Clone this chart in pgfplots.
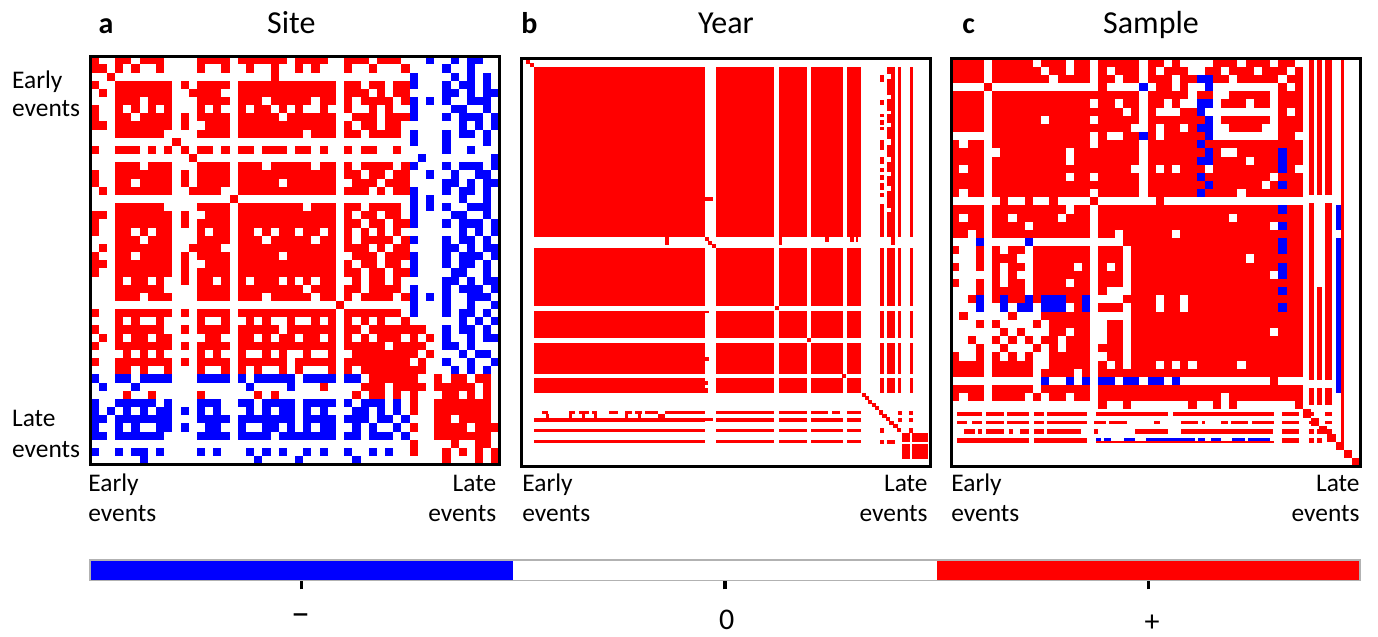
\documentclass[border=0pt]{standalone}
\usepackage{fontspec}
\setmainfont{Carlito}
\usepackage{pgfplots}
\usepackage{pgfplotstable}
\pgfplotsset{compat=1.18}
\definecolor{pR}{RGB}{255,0,0}
\definecolor{pB}{RGB}{0,0,255}
\pgfplotsset{
  panel/.style={scale only axis, width=204.5pt, height=204pt, anchor=south west,
    axis on top, axis line style={black, line width=1.6pt}, ticks=none, y dir=reverse,
    colormap={rwb}{rgb255=(0,0,255) rgb255=(255,255,255) rgb255=(255,0,0)},
    point meta min=-1, point meta max=1},
  cellpanel/.style={panel, xmin=-0.5, xmax=49.5, ymin=-0.5, ymax=49.5},
  cellplot/.style={only marks, scatter, mark=square*, mark size=2pt, line width=0.2pt,
    point meta=explicit, scatter/use mapped color={draw=mapped color, fill=mapped color}},
}
\newcommand\crect[5]{\addplot[draw=none, fill=#1] coordinates {(#2,#3) (#4,#3) (#4,#5) (#2,#5)};}
\newcommand\yr[4]{\crect{pR}{#1}{#2}{#3}{#4}}
\newcommand\ycol[2]{\yr{#1}{1.64}{#2}{43.75}\yr{#1}{46.46}{#2}{60.69}\yr{#1}{61.84}{#2}{68.67}\yr{#1}{69.74}{#2}{77.47}\yr{#1}{78.54}{#2}{82.07}}
\newcommand\ycolb[2]{\yr{#1}{46.46}{#2}{60.69}\yr{#1}{61.84}{#2}{68.67}\yr{#1}{69.74}{#2}{77.47}\yr{#1}{78.54}{#2}{82.07}}
\newcommand\yrow[2]{\yr{2.8}{#1}{44.9}{#2}\yr{47.6}{#1}{62.0}{#2}\yr{63.0}{#1}{70.0}{#2}\yr{71.0}{#1}{79.0}{#2}\yr{79.85}{#1}{83.4}{#2}}

% Site: 50 x 50 cells, rows top to bottom; 1 = +, 0 = 0, -1 = -
\pgfplotstableread{
1 0 0  1 1 0 1 1 1 0  0 0 0  1 1 1 1  0  1 1 1 1 1 1 0 1 1 1 1 0  0  1 1 1 0 1 1 1 0  0 0 -1 0 0 -1 0 -1 -1 0 0
1 1 0  1 0 1 0 0 1 0  0 0 0  1 0 0 1  0  0 1 0 0 1 0 0 1 0 1 0 0  0  1 0 0 1 0 0 0 1  0 0 0 0 -1 0 0 -1 0 0 0
0 0 1  0 0 0 0 0 0 0  0 0 0  0 0 0 0  0  0 0 0 0 1 0 0 0 0 0 0 0  0  0 0 0 0 0 0 0 0  -1 0 0 0 0 -1 0 -1 0 -1 0
1 0 0  1 1 1 1 1 1 1  0 1 0  1 1 1 1  0  1 1 1 1 1 1 1 1 1 1 1 1  0  1 1 0 1 1 0 1 1  -1 0 0 0 -1 0 -1 -1 0 -1 0
0 1 0  1 1 1 1 1 1 1  0 0 1  1 1 1 0  0  1 1 1 1 1 1 1 1 1 1 1 1  0  1 1 1 0 1 0 1 1  0 0 0 0 -1 -1 0 -1 0 -1 -1
0 0 0  1 1 1 0 1 1 1  0 0 0  1 1 1 1  0  1 1 1 0 1 1 1 1 1 0 1 1  0  1 0 1 1 1 1 0 1  -1 0 -1 0 -1 0 0 -1 -1 -1 0
1 0 0  1 0 1 0 1 0 1  0 0 0  1 0 1 0  0  1 0 1 1 0 1 0 1 0 0 1 0  0  1 0 0 1 0 1 0 0  -1 0 0 0 0 -1 -1 0 0 -1 0
1 0 0  1 1 0 1 1 1 1  0 1 0  1 1 1 1  0  1 1 1 1 1 0 1 1 1 1 1 1  0  0 1 1 1 0 1 1 1  -1 0 0 0 -1 0 -1 -1 -1 0 -1
1 1 0  1 1 1 1 1 1 1  0 1 0  0 1 1 1  0  1 1 1 1 1 1 1 1 1 1 1 1  0  1 0 1 1 0 1 1 0  0 0 0 0 0 0 -1 0 -1 0 -1
0 0 0  1 1 1 1 1 1 0  0 0 0  1 1 1 1  0  1 1 1 1 1 1 1 1 0 1 1 1  0  1 1 0 1 1 1 1 0  -1 0 0 0 -1 0 -1 -1 0 -1 0
0 0 0  0 0 0 0 0 0 0  1 0 0  0 0 0 0  0  0 0 0 0 0 0 0 0 0 0 0 0  0  0 0 0 0 0 0 0 0  -1 0 0 0 -1 0 0 0 0 -1 0
1 0 0  1 1 1 0 1 0 1  0 1 0  1 1 0 1  0  1 1 0 1 1 1 0 1 1 0 1 0  0  1 0 1 1 0 0 1 0  0 0 0 0 -1 0 0 -1 0 0 0
0 0 0  0 0 0 0 0 0 0  0 0 1  0 0 0 0  0  0 0 0 0 0 0 0 0 0 0 0 0  0  0 0 0 0 0 0 0 0  0 -1 0 0 0 0 0 0 0 0 -1
0 0 0  1 1 1 0 1 1 1  0 0 0  1 1 1 1  0  1 1 1 0 1 1 1 1 1 0 1 1  0  1 0 1 1 1 1 0 1  -1 0 0 0 -1 0 -1 -1 -1 0 -1
1 0 0  1 1 1 1 1 1 1  0 1 0  1 1 1 1  0  1 1 1 1 1 1 1 1 1 1 1 1  0  1 1 0 1 1 0 1 1  0 0 -1 0 0 -1 0 0 -1 -1 0
1 0 0  1 1 0 1 1 1 1  0 1 0  1 1 1 1  0  1 1 1 1 1 0 1 1 1 1 1 1  0  0 1 1 1 0 1 1 1  0 0 0 0 -1 -1 0 -1 0 -1 -1
0 1 0  1 1 1 1 1 1 1  0 0 1  1 1 1 0  0  1 1 1 1 1 1 1 1 1 1 1 1  0  1 1 1 0 1 0 1 1  -1 0 0 0 -1 0 -1 -1 0 -1 0
0 0 0  0 0 0 0 0 0 0  0 0 0  0 0 0 0  1  0 0 0 0 0 0 0 0 0 0 0 0  0  0 0 0 0 0 0 0 0  -1 0 -1 0 0 0 -1 0 0 -1 0
0 0 0  1 1 1 1 1 1 0  0 0 0  1 1 1 1  0  1 1 1 1 1 1 1 1 0 1 1 1  0  1 1 0 1 1 1 1 0  -1 0 -1 0 -1 0 0 -1 -1 -1 0
1 1 0  1 1 1 1 1 1 1  0 1 0  0 1 1 1  0  1 1 1 1 1 1 1 1 1 1 1 1  0  1 0 1 1 0 1 1 0  -1 0 0 0 0 -1 -1 0 0 -1 0
1 0 0  1 1 1 1 1 1 1  0 1 0  1 1 1 1  0  1 1 1 1 1 1 1 1 1 1 1 1  0  1 1 0 1 1 0 1 1  -1 0 0 0 -1 0 -1 -1 -1 0 -1
1 0 0  1 1 0 1 0 1 1  0 0 0  1 0 1 1  0  1 1 0 1 0 1 1 0 1 1 0 1  0  1 0 1 0 1 0 1 0  0 0 0 0 0 0 -1 0 -1 0 -1
0 0 0  1 1 1 0 1 1 1  0 0 0  1 1 1 1  0  1 1 1 0 1 1 1 1 1 0 1 1  0  1 0 1 1 1 1 0 1  -1 0 0 0 -1 0 -1 -1 0 -1 0
0 1 0  1 1 1 1 1 1 1  0 0 1  1 1 1 0  0  1 1 1 1 1 1 1 1 1 1 1 1  0  1 1 1 0 1 0 1 1  0 0 0 0 -1 -1 0 -1 0 -1 -1
1 0 0  1 1 0 1 1 1 1  0 1 0  1 1 1 1  0  1 1 1 1 1 0 1 1 1 1 1 1  0  0 1 1 1 0 1 1 1  -1 0 0 0 -1 0 -1 -1 -1 0 -1
1 1 0  1 1 1 1 1 1 1  0 1 0  0 1 1 1  0  1 1 1 1 1 1 1 1 1 1 1 1  0  1 0 1 1 0 1 1 0  -1 0 0 0 -1 0 -1 -1 0 -1 0
1 0 0  1 1 1 1 1 1 1  0 1 0  1 1 1 1  0  1 1 1 1 1 1 1 1 1 1 1 1  0  1 1 0 1 1 0 1 1  -1 0 0 0 0 -1 -1 0 0 -1 0
0 0 0  1 0 1 1 0 1 0  0 1 0  1 1 0 1  0  1 0 1 1 1 0 1 0 1 0 1 1  0  0 1 0 1 1 0 1 0  0 0 0 0 -1 -1 0 -1 0 -1 -1
0 0 0  1 1 1 1 1 1 0  0 0 0  1 1 1 1  0  1 1 1 1 1 1 1 1 0 1 1 1  0  1 1 0 1 1 1 1 0  -1 0 0 0 -1 0 -1 -1 -1 0 -1
0 0 0  1 1 1 0 1 1 1  0 0 0  1 1 1 1  0  1 1 1 0 1 1 1 1 1 0 1 1  0  1 0 1 1 1 1 0 1  -1 0 -1 0 -1 0 0 -1 -1 -1 0
0 0 0  0 0 0 0 0 0 0  0 0 0  0 0 0 0  0  0 0 0 0 0 0 0 0 0 0 0 0  1  0 0 0 0 0 0 0 0  -1 0 0 0 -1 0 0 -1 0 0 -1
1 0 0  1 1 1 1 1 1 1  0 1 0  1 1 1 1  0  1 1 1 1 1 1 1 1 1 1 1 1  0  1 1 1 1 1 1 1 0  -1 0 0 0 -1 0 -1 -1 0 -1 0
0 0 0  1 0 1 0 0 1 0  0 0 0  1 0 0 1  0  0 1 0 1 0 0 1 0 0 1 0 1  0  1 0 1 0 1 0 0 1  0 0 0 0 0 0 -1 0 -1 0 -1
1 0 0  1 1 1 1 1 1 0  0 1 0  1 1 1 1  0  1 1 1 1 1 0 1 1 1 1 1 1  0  1 1 0 1 1 1 1 1  1 1 0 0 -1 0 -1 -1 0 -1 0
0 1 0  1 0 1 1 0 1 1  0 0 0  0 1 1 0  0  1 1 0 1 0 1 1 0 1 1 0 1  0  1 0 1 0 1 1 1 0  1 0 1 0 -1 0 0 -1 0 -1 -1
1 0 0  1 1 1 1 1 1 1  0 1 0  1 1 1 1  0  1 1 1 1 1 1 1 1 1 1 1 1  0  1 1 1 1 1 0 1 1  1 1 0 0 -1 -1 0 -1 0 0 0
0 0 0  0 1 0 1 0 1 0  0 0 0  1 0 1 0  0  1 0 0 1 0 1 0 0 1 0 0 1  0  0 1 1 1 1 1 1 1  1 0 1 0 0 0 -1 0 -1 -1 0
1 0 0  1 1 1 1 1 1 1  0 1 0  1 1 1 1  0  1 1 1 1 1 1 0 1 1 1 1 1  0  1 1 1 1 1 1 1 1  0 1 0 0 -1 0 0 -1 0 0 -1
0 0 0  1 1 0 1 0 0 1  0 0 0  1 0 0 1  0  1 0 1 0 0 1 0 1 0 0 0 1  0  1 0 1 1 1 1 1 1  1 1 0 0 0 -1 0 -1 0 -1 0
-1 0 0  -1 -1 0 -1 -1 -1 -1  0 0 0  -1 -1 -1 -1  0  -1 0 -1 -1 -1 -1 -1 0 -1 -1 -1 -1  0  -1 -1 0 1 1 1 1 1  1 0 0 1 0 1 1 0 1 1 0
0 -1 0  0 0 -1 0 0 0 0  0 0 0  0 0 0 0  0  0 -1 0 0 0 0 -1 0 0 0 1 0  0  0 0 1 1 1 0 1 1  1 1 0 1 1 1 1 1 0 1 0
0 0 0  0 1 0 0 1 0 0  0 0 0  1 0 0 0  0  0 0 1 0 1 0 0 0 0 0 0 0  0  0 1 0 1 1 0 1 0  1 0 0 0 1 1 0 1 0 1 0
-1 0 0  -1 -1 -1 -1 -1 0 -1  0 0 0  -1 -1 -1 0  0  -1 -1 0 -1 -1 -1 -1 0 -1 -1 -1 -1  0  -1 0 -1 -1 -1 0 -1 0  1 0 0 1 1 1 1 1 1 1 0
-1 0 -1  0 -1 0 -1 0 -1 -1  0 -1 0  -1 0 -1 0  0  0 -1 0 -1 0 -1 -1 0 -1 0 -1 0  0  0 -1 -1 0 -1 0 -1 0  1 0 0 1 1 1 1 1 1 1 0
-1 -1 0  -1 -1 -1 -1 -1 -1 -1  0 0 0  -1 -1 -1 -1  0  -1 -1 -1 -1 -1 -1 -1 0 -1 -1 -1 -1  0  -1 -1 -1 0 -1 -1 0 -1  0 0 0 1 1 0 1 1 1 1 0
-1 0 0  -1 0 -1 0 0 -1 -1  0 -1 0  0 -1 -1 0  0  -1 0 0 -1 -1 0 -1 0 -1 0 -1 -1  0  0 -1 0 -1 0 0 -1 0  1 0 0 1 1 1 1 0 1 1 1
-1 -1 0  -1 -1 -1 -1 -1 -1 0  0 0 0  -1 -1 -1 -1  0  -1 -1 -1 -1 0 -1 -1 -1 -1 -1 -1 -1  0  -1 -1 0 -1 -1 -1 0 -1  0 0 0 1 1 1 1 1 1 1 0
0 0 0  0 0 0 0 0 0 0  0 0 0  0 0 0 0  0  0 0 0 0 0 0 0 0 0 0 0 0  0  0 0 0 0 0 0 0 0  1 0 0 0 0 1 0 0 1 1 0
-1 0 0  -1 0 -1 -1 0 -1 0  0 0 0  -1 0 -1 0  0  0 -1 0 -1 0 -1 0 0 -1 0 -1 0  0  -1 0 0 -1 0 -1 0 0  1 0 0 0 1 0 1 0 1 0 1
0 0 0  0 0 0 -1 0 0 0  0 0 0  0 0 0 0  0  0 0 -1 0 0 0 0 -1 0 0 0 0  0  0 -1 0 0 0 0 0 0  0 0 0 0 1 0 0 0 1 0 1
}\siteT

% Sample: 50 x 50 cells (thin right-hand columns and the bottom stripes are drawn as bands in an overlay)
\pgfplotstableread{
1 1 1 1  0  1 1 1 1 1 0 1 1 1 0 1 1  0  1 1 1 1 1  0  1 1 0 1 0 0  0  0  1 1 1 0 1 1 1 0  1 1 0  0 0 0 0 0  0 0
1 1 1 1  0  1 1 1 1 1 1 0 1 1 0 1 1  0  1 0 1 1 1  0  1 0 1 1 1 0  0  1  1 0 1 1 1 0 1 1  1 0 1  0 0 0 0 0  0 0
1 1 1 1  0  1 1 1 1 1 1 1 0 1 1 1 1  0  1 1 0 1 1  0  1 1 1 0 1 1  -1  -1  1 1 0 1 1 1 1 1  0 1 1  0 0 0 0 0  0 0
0 0 0 0  1  0 0 0 0 0 0 0 0 0 0 0 0  0  1 0 0 0 0  -1  0 1 1 0 1 0  0  -1  0 0 0 0 0 0 0 0  1 0 1  0 0 0 0 0  0 0
1 1 1 1  0  1 1 1 1 1 1 1 1 1 1 1 1  1  1 1 1 1 1  0  1 1 1 1 1 0  1  1  0 0 1 1 1 1 1 0  1 1 1  0 0 0 0 0  0 0
1 1 1 1  0  1 1 1 1 1 1 1 1 1 1 1 1  0  1 1 0 1 1  0  1 1 0 1 0 0  -1  -1  0 1 1 1 0 1 1 0  1 1 1  0 0 0 0 0  0 0
1 1 1 1  0  1 1 1 1 1 1 1 1 1 1 1 1  1  1 1 1 0 1  0  1 0 0 0 1 1  -1  0  0 0 0 0 0 0 0 0  1 0 1  0 0 0 0 0  0 0
1 1 1 1  0  1 1 1 1 1 1 0 1 1 1 1 1  0  1 1 1 1 1  0  1 1 1 1 1 1  1  -1  0 1 1 1 1 1 1 0  1 1 1  0 0 0 0 0  0 0
1 1 1 1  0  1 1 1 1 1 1 1 1 1 1 1 1  1  1 1 1 1 0  0  1 0 1 1 0 1  -1  -1  0 0 1 1 1 1 0 0  1 1 1  0 0 0 0 0  0 0
0 0 0 0  0  1 1 1 1 1 1 1 1 1 1 1 1  0  1 0 0 1 1  -1  1 0 1 1 1 1  1  -1  0 0 0 0 0 0 0 0  1 1 0  0 0 0 0 0  0 0
1 0 1 1  0  1 1 1 1 1 1 1 1 1 1 1 1  0  1 1 1 1 1  0  1 1 1 1 1 1  -1  1  1 1 1 1 1 1 1 1  1 1 1  0 0 0 0 0  0 0
1 1 1 1  0  0 1 1 1 1 1 1 1 1 0 1 1  1  1 1 1 1 1  0  1 1 1 1 1 1  1  -1  1 0 0 1 1 1 1 1  -1 1 1  0 0 0 0 0  0 0
1 1 1 1  0  1 1 1 1 1 1 1 1 1 0 1 1  1  1 1 1 1 1  0  1 1 1 1 1 1  -1  -1  1 1 1 1 0 1 1 1  -1 1 1  0 0 0 0 0  0 0
1 0 1 1  0  1 1 1 1 1 1 1 1 1 1 1 1  1  1 1 1 1 0  0  1 0 1 0 1 1  1  0  1 1 1 1 1 1 1 1  -1 1 0  0 0 0 0 0  0 0
1 1 1 1  0  1 1 1 1 1 1 1 1 1 0 1 1  0  1 1 1 1 1  0  1 1 1 1 1 1  -1  1  1 1 1 1 1 1 1 0  1 1 1  0 0 0 0 0  0 0
1 1 1 1  0  1 1 1 1 1 1 1 1 1 1 1 1  1  1 1 1 1 1  0  1 1 1 1 1 1  1  -1  1 1 1 1 1 1 0 1  -1 1 1  0 0 0 0 0  0 0
1 0 1 1  0  1 1 1 1 1 1 1 1 1 1 1 1  0  1 1 1 1 1  0  1 1 1 1 1 1  -1  1  1 1 1 0 1 1 1 1  1 1 1  0 0 0 0 0  0 0
0 0 0 0  0  0 1 0 0 1 0 0 1 0 0 0 0  1  0 0 0 0 0  0  0 1 0 0 0 0  0  0  0 0 0 0 0 0 0 0  0 0 0  0 0 0 0 0  0 0
1 1 1 1  0  1 1 1 1 1 1 1 1 1 0 1 1  0  1 1 1 1 1  1  1 1 1 1 1 1  1  1  1 1 1 1 1 1 1 1  -1 1 1  0 0 0 0 -1  0 0
1 0 1 1  0  1 1 0 1 1 1 1 1 0 1 1 1  0  1 1 1 1 1  1  1 1 1 1 1 1  1  1  1 1 0 1 1 1 1 1  1 1 1  0 0 0 0 -1  0 0
1 1 1 1  0  1 1 1 1 0 1 1 1 1 1 1 1  0  1 1 1 1 1  1  1 1 1 1 1 1  1  1  1 1 1 1 1 1 1 0  -1 1 1  0 0 0 0 -1  0 0
1 1 0 1  0  1 1 1 1 1 1 1 1 1 1 1 1  0  1 1 0 1 1  1  1 1 1 0 1 1  1  1  1 1 1 1 1 1 1 1  1 1 1  0 0 0 0 0  0 0
0 0 0 -1  0  0 0 0 0 -1 0 0 0 0 0 0 0  0  0 0 0 1 1  1  1 1 1 1 1 1  1  1  1 1 1 1 1 1 1 1  -1 1 1  0 0 0 0 -1  0 0
1 0 0 1  0  1 0 1 1 0 1 1 1 1 1 1 1  0  1 1 1 0 1  1  1 1 1 1 1 1  1  1  1 1 1 1 1 1 1 1  -1 1 1  0 0 0 0 -1  0 0
0 0 0 1  0  1 1 1 0 0 1 1 1 1 1 1 1  0  1 1 1 0 1  1  1 1 1 1 1 1  1  1  1 1 1 1 0 1 1 1  1 1 1  0 0 0 0 -1  0 0
1 0 0 1  0  1 0 1 1 0 1 1 1 1 1 0 1  0  1 0 1 0 1  1  1 1 1 1 1 1  1  1  1 1 1 1 1 1 1 1  -1 1 1  0 0 0 0 -1  0 0
0 0 0 0  0  1 0 1 0 0 1 1 1 1 1 1 1  0  1 1 1 0 1  1  1 1 1 1 1 1  1  1  1 1 1 1 1 1 1 0  -1 1 1  0 0 0 0 -1  0 0
1 0 0 1  0  1 0 1 1 0 1 1 1 1 0 1 1  0  1 1 1 0 1  1  1 1 1 1 1 1  1  1  1 1 1 1 1 1 1 1  1 1 1  0 0 0 0 -1  0 0
0 0 0 1  0  1 1 1 1 0 1 1 1 1 1 1 1  0  1 0 0 0 1  1  1 1 1 1 1 1  1  1  1 1 1 1 1 1 1 1  -1 1 1  0 0 0 0 -1  0 0
0 0 1 -1  0  1 -1 1 1 -1 1 -1 -1 -1 1 1 -1  0  0 0 0 1 1  1  1 0 1 1 0 1  1  1  1 1 1 1 1 1 1 1  1 1 1  0 0 0 0 -1  0 0
0 0 0 -1  0  0 -1 0 -1 -1 0 -1 -1 -1 0 1 -1  0  1 1 1 0 1  1  1 0 1 1 0 1  1  1  1 1 1 1 1 1 1 1  -1 1 1  0 0 0 0 -1  0 0
0 1 0 0  0  0 0 1 0 0 0 1 1 1 1 1 1  0  0 0 0 0 1  1  1 1 1 1 1 1  1  1  1 1 1 1 1 1 1 1  1 1 1  0 0 0 0 -1  0 0
0 0 0 1  0  1 0 0 0 0 1 0 1 1 1 1 1  0  0 1 1 0 1  1  1 1 1 1 1 1  1  1  1 1 1 1 1 1 1 1  1 1 1  0 0 0 0 -1  0 0
0 0 0 0  0  0 1 0 1 0 0 0 1 1 0 1 1  0  0 1 1 0 1  1  1 1 1 1 1 1  1  1  1 1 1 1 1 1 1 0  1 1 1  0 0 0 0 -1  0 0
0 0 1 0  0  1 0 1 0 1 0 1 1 0 1 1 1  0  0 1 1 0 1  1  1 1 1 1 1 1  1  1  1 1 1 1 1 1 1 1  1 1 1  0 0 0 0 -1  0 0
0 0 0 1  0  0 1 0 0 0 1 0 1 0 1 1 1  0  1 1 1 0 1  1  1 1 1 1 1 1  1  1  1 1 1 1 1 1 1 1  1 1 1  0 0 0 0 -1  0 0
1 0 0 1  0  1 0 1 0 1 0 0 1 1 1 1 1  0  0 1 1 0 1  1  1 1 1 1 1 1  1  1  1 1 1 1 1 1 1 1  1 1 1  0 0 0 0 -1  0 0
1 1 1 1  0  1 1 1 1 1 0 0 1 1 1 1 1  0  1 0 1 0 1  1  1 0 1 0 1 0  1  1  1 1 1 0 1 1 1 1  1 1 1  0 0 0 0 -1  0 0
1 1 1 1  0  1 1 1 1 1 0 1 1 1 1 0 1  0  1 1 1 1 1  1  1 1 1 1 1 1  1  1  1 1 1 1 1 1 1 1  1 1 1  0 0 0 0 -1  0 0
0 0 0 0  0  0 0 0 0 0 0 -1 0 0 -1 0 -1  0  -1 -1 0 -1 -1  0  -1 -1 0 -1 0 0  0  0  0 0 0 0 0 0 0 1  0 0 0  0 0 0 0 -1  0 0
1 1 1 1  0  1 1 1 1 1 0 1 1 1 1 1 1  0  1 1 1 1 1  1  1 1 1 1 1 1  1  1  1 1 1 1 1 1 1 1  1 1 1  0 0 0 0 -1  0 0
1 0 1 1  0  1 1 1 1 0 1 0 1 1 0 1 1  0  1 1 1 1 1  1  1 1 1 1 1 1  1  1  1 0 1 1 1 1 1 1  1 1 1  0 0 0 0 0  0 0
0 0 0 0  0  0 0 0 0 0 0 0 0 0 0 0 0  0  1 0 0 1 0  0  0 0 0 0 0 1  0  0  1 0 1 0 0 0 0 0  0 0 1  0 0 0 0 0  0 0
0 0 0 0 0 0 0 0 0 0  0 0 0 0 0 0 0 0 0 0  0 0 0 0 0 0 0 0 0 0  0 0 0 0 0 0 0 0 0 0  0 0 0  1  0 0 0 0  0 0
0 0 0 0 0 0 0 0 0 0  0 0 0 0 0 0 0 0 0 0  0 0 0 0 0 0 0 0 0 0  0 0 0 0 0 0 0 0 0 0  0 0 0  0  1  0 0 0  0 0
0 0 0 0 0 0 0 0 0 0  0 0 0 0 0 0 0 0 0 0  0 0 0 0 0 0 0 0 0 0  0 0 0 0 0 0 0 0 0 0  0 0 0  0 0  1  0 0  0 0
0 0 0 0 0 0 0 0 0 0  0 0 0 0 0 0 0 0 0 0  0 0 0 0 0 0 0 0 0 0  0 0 0 0 0 0 0 0 0 0  0 0 0  0 0 0  1  0  0 0
0 0 0 0 0 0 0 0 0 0  0 0 0 0 0 0 0 0 0 0  0 0 0 0 0 0 0 0 0 0  0 0 0 0 0 0 0 0 0 0  0 0 0 0 0 0 0  1  0 0
0 0 0 0 0 0 0 0 0 0  0 0 0 0 0 0 0 0 0 0  0 0 0 0 0 0 0 0 0 0  0 0 0 0 0 0 0 0 0 0  0 0 0 0 0 0 0 0  1  0
0 0 0 0 0 0 0 0 0 0  0 0 0 0 0 0 0 0 0 0  0 0 0 0 0 0 0 0 0 0  0 0 0 0 0 0 0 0 0 0  0 0 0 0 0 0 0 0 0  1
}\sampleT

\begin{document}
\begin{tikzpicture}
\useasboundingbox (0,0) rectangle (689pt,318.5pt);

% ---------- a: Site ----------
\begin{axis}[cellpanel, at={(45.35pt,86.35pt)}]
\pgfplotsinvokeforeach{0,...,49}{\addplot[cellplot] table[x expr=#1, y expr=\coordindex, meta index=#1] {\siteT};}
\end{axis}
\draw[black, line width=1.6pt] (45.35pt,86.35pt) rectangle ++(204.5pt,204pt);

% ---------- b: Year ----------
\begin{axis}[panel, at={(260.65pt,85.15pt)}, xmin=-0.4, xmax=100.4, ymin=-0.4, ymax=100.4]
\ycol{2.8}{44.9}
\ycol{47.6}{62.0}
\ycol{63.0}{70.0}
\ycol{71.0}{79.0}
\ycol{79.85}{83.4}
\ycol{90.6}{91.6}
\ycol{92.4}{93.3}
\ycol{95.3}{96.05}
\ycolb{88.1}{88.9}
\ycolb{89.7}{90.6}
\yr{88.1}{3.7}{88.9}{5.3}
\yr{88.1}{9.9}{88.9}{11.1}
\yr{88.1}{13.2}{88.9}{14.0}
\yr{88.1}{14.8}{88.9}{16.0}
\yr{88.1}{16.4}{88.9}{17.3}
\yr{88.1}{19.7}{88.9}{22.2}
\yr{88.1}{23.8}{88.9}{25.5}
\yr{88.1}{26.7}{88.9}{27.5}
\yr{88.1}{28.4}{88.9}{29.6}
\yr{88.1}{30.4}{88.9}{32.1}
\yr{88.1}{32.9}{88.9}{33.7}
\yr{88.1}{35.4}{88.9}{43.75}
\yr{89.7}{1.64}{90.6}{3.5}
\yr{89.7}{4.5}{90.6}{8.5}
\yr{89.7}{9.5}{90.6}{12.5}
\yr{89.7}{13.3}{90.6}{15.5}
\yr{89.7}{16.5}{90.6}{19.5}
\yr{89.7}{21.0}{90.6}{24.0}
\yr{89.7}{25.0}{90.6}{27.5}
\yr{89.7}{28.5}{90.6}{31.0}
\yr{89.7}{32.2}{90.6}{36.5}
\yr{89.7}{37.5}{90.6}{43.75}
\yr{90.6}{43.75}{91.6}{45.6}
% thin rows
\yr{4.6}{86.7}{6.2}{87.5}
\yr{11.3}{86.7}{12.9}{87.5}
\yr{13.7}{86.7}{16.2}{87.5}
\yr{16.9}{86.7}{18.2}{87.5}
\yr{21.1}{86.7}{23.5}{87.5}
\yr{25.2}{86.7}{26.8}{87.5}
\yr{27.6}{86.7}{29.3}{87.5}
\yr{30.1}{86.7}{33.4}{87.5}
\yr{35.0}{86.7}{44.9}{87.5}
\yr{47.6}{86.7}{62.0}{87.5}
\yr{63.0}{86.7}{70.0}{87.5}
\yr{71.0}{86.7}{75.3}{87.5}
\yr{76.1}{86.7}{78.2}{87.5}
\yr{79.85}{86.7}{83.4}{87.5}
\yr{5.6}{87.5}{6.4}{88.4}
\yr{11.3}{87.5}{12.1}{88.4}
\yr{14.6}{87.5}{15.4}{88.4}
\yr{17.4}{87.5}{18.2}{88.4}
\yr{25.2}{87.5}{26.0}{88.4}
\yr{28.4}{87.5}{29.2}{88.4}
\yr{33.4}{87.5}{35.0}{88.4}
\yrow{88.4}{89.3}
\yr{44.9}{88.4}{46.8}{89.0}
\yrow{91.0}{91.9}
\yrow{93.8}{94.6}
% bottom-right block
\yr{93.4}{92.1}{95.3}{94.2}
\yr{95.9}{92.1}{99.8}{94.2}
\yr{93.4}{94.7}{95.3}{98.5}
\yr{95.9}{94.7}{99.8}{98.5}
% small protrusions
\yr{44.9}{33.7}{46.9}{34.7}
\yr{35.0}{43.75}{36.0}{45.6}
\yr{63.0}{43.75}{63.8}{45.6}
\yr{74.5}{43.75}{75.5}{44.8}
\yr{80.7}{43.75}{81.5}{44.8}
\yr{82.0}{43.75}{82.7}{44.8}
\yr{44.9}{61.84}{45.9}{62.5}
\yr{44.9}{73.2}{45.9}{74.2}
\yr{44.9}{79.3}{45.6}{80.1}
\yr{44.9}{80.9}{45.6}{82.07}
% diagonal and crossing cells
\addplot[only marks, mark=square*, mark size=0.8pt, pR] coordinates {
(1.3,0.4) (2.3,1.2) (45.3,44.2) (46.1,45.1) (47.0,45.9) (62.5,61.2) (70.4,69.1)
(78.2,77.0) (79.2,77.9)
(83.96,82.6) (84.8,83.5) (85.6,84.3) (86.4,85.1) (87.3,85.9) (88.3,87.0) (89.1,87.8)
(89.9,88.6) (90.8,89.5) (91.8,90.3) (92.6,91.3)
(92.85,87.1) (95.7,87.1) (92.85,88.85) (95.7,88.85) (88.5,91.45) (95.7,91.45)
(88.5,94.2) (90.2,94.2) (91.1,94.2)};
\end{axis}

% ---------- c: Sample ----------
\begin{axis}[cellpanel, at={(475.65pt,85.15pt)}]
\pgfplotsinvokeforeach{0,...,49}{\addplot[cellplot] table[x expr=#1, y expr=\coordindex, meta index=#1] {\sampleT};}
\end{axis}
\begin{axis}[cellpanel, at={(475.65pt,85.15pt)}, hide axis]
% thin columns on the right
\crect{pR}{43.2}{-0.5}{43.8}{16.2}
\crect{pR}{43.2}{17.2}{43.8}{38.9}
\crect{pR}{43.2}{39.8}{43.8}{41.9}
\crect{pR}{44.2}{-0.5}{44.8}{16.2}
\crect{pR}{44.2}{27.5}{44.8}{38.9}
\crect{pR}{44.2}{39.8}{44.8}{41.9}
\crect{pR}{45.2}{-0.5}{46.1}{16.2}
\crect{pR}{45.2}{17.2}{46.1}{38.9}
\crect{pR}{45.2}{39.8}{46.1}{41.9}
\crect{pR}{47.1}{-0.5}{47.5}{46.54}
% bottom stripes
\crect{pR}{0.16}{42.83}{3.2}{43.24}
\crect{pR}{3.8}{42.83}{5.9}{43.24}
\crect{pR}{6.3}{42.83}{9.0}{43.24}
\crect{pR}{9.6}{42.83}{10.8}{43.24}
\crect{pR}{11.2}{42.83}{16.1}{43.24}
\crect{pR}{17.2}{42.83}{26.0}{43.24}
\crect{pR}{26.6}{42.83}{38.9}{43.24}
\crect{pR}{39.9}{42.83}{42.0}{43.24}
\crect{pR}{43.2}{42.83}{43.8}{43.24}
\crect{pR}{45.2}{42.83}{46.1}{43.24}
\crect{pR}{0.16}{43.86}{1.4}{44.27}
\crect{pR}{2.0}{43.86}{3.2}{44.27}
\crect{pR}{3.8}{43.86}{5.9}{44.27}
\crect{pR}{6.3}{43.86}{9.0}{44.27}
\crect{pR}{9.6}{43.86}{10.8}{44.27}
\crect{pR}{11.2}{43.86}{16.1}{44.27}
\crect{pR}{16.9}{43.86}{18.4}{44.27}
\crect{pR}{18.8}{43.86}{21.0}{44.27}
\crect{pR}{24.3}{43.86}{25.0}{44.27}
\crect{pR}{27.6}{43.86}{29.7}{44.27}
\crect{pR}{30.1}{43.86}{30.5}{44.27}
\crect{pR}{32.5}{43.86}{33.3}{44.27}
\crect{pR}{33.7}{43.86}{35.8}{44.27}
\crect{pR}{36.2}{43.86}{38.9}{44.27}
\crect{pR}{39.9}{43.86}{42.0}{44.27}
\crect{pR}{43.2}{43.86}{43.8}{44.27}
\crect{pR}{45.2}{43.86}{46.1}{44.27}
\crect{pR}{1.0}{44.89}{2.4}{45.51}
\crect{pR}{2.8}{44.89}{3.2}{45.51}
\crect{pR}{3.8}{44.89}{5.9}{45.51}
\crect{pR}{6.5}{44.89}{7.1}{45.51}
\crect{pR}{7.9}{44.89}{9.0}{45.51}
\crect{pR}{9.6}{44.89}{10.8}{45.51}
\crect{pR}{11.2}{44.89}{15.3}{45.51}
\crect{pR}{16.9}{44.89}{17.4}{45.51}
\crect{pR}{21.9}{44.89}{26.0}{45.51}
\crect{pR}{27.6}{44.89}{38.8}{45.51}
\crect{pR}{39.9}{44.89}{42.0}{45.51}
\crect{pR}{43.2}{44.89}{43.8}{45.51}
\crect{pR}{44.2}{44.89}{44.8}{45.51}
\crect{pR}{45.2}{44.89}{46.1}{45.51}
\crect{pR}{0.16}{45.93}{9.0}{46.54}
\crect{pR}{9.6}{45.93}{16.1}{46.54}
\crect{pR}{17.2}{46.34}{38.9}{46.54}
\crect{pR}{39.9}{45.93}{42.0}{46.54}
\crect{pR}{43.2}{45.93}{43.8}{46.54}
\crect{pR}{44.2}{45.93}{44.8}{46.54}
\crect{pB}{17.2}{45.93}{17.8}{46.34}
\crect{pB}{18.2}{45.93}{19.0}{46.34}
\crect{pB}{20.6}{45.93}{21.9}{46.34}
\crect{pB}{23.3}{45.93}{29.3}{46.34}
\crect{pB}{29.7}{45.93}{30.5}{46.34}
\crect{pB}{31.3}{45.93}{32.5}{46.34}
\crect{pB}{33.8}{45.93}{35.4}{46.34}
\crect{pB}{35.8}{45.93}{38.5}{46.34}
\end{axis}
\draw[black, line width=1.6pt] (475.65pt,85.15pt) rectangle ++(204.5pt,204pt);

% ---------- colour bar ----------
\begin{axis}[scale only axis, width=635pt, height=10.35pt, anchor=south west, at={(45pt,28.15pt)},
  xmin=-1.5, xmax=1.5, ymin=0, ymax=1, axis on top,
  xtick={-1,0,1}, xticklabels={,,}, ytick=\empty, xtick pos=left, tick align=outside,
  major tick length=4.3pt, major tick style={black, line width=1.6pt},
  axis line style={draw=gray!60, line width=0.6pt}]
\addplot[draw=none, fill=pB] coordinates {(-1.5,0) (-0.5,0) (-0.5,1) (-1.5,1)};
\addplot[draw=none, fill=white] coordinates {(-0.5,0) (0.5,0) (0.5,1) (-0.5,1)};
\addplot[draw=none, fill=pR] coordinates {(0.5,0) (1.5,0) (1.5,1) (0.5,1)};
\draw[black, line width=1.3pt] (rel axis cs:0,0) -- (rel axis cs:0,1);
\draw[black, line width=1.3pt] (rel axis cs:1,0) -- (rel axis cs:1,1);
\end{axis}

% ---------- texts ----------
\begin{scope}[every node/.style={inner sep=0pt}]
\node[anchor=base, font=\fontsize{16}{19}\selectfont] at (145.65pt,301.85pt) {Site};
\node[anchor=base, font=\fontsize{16}{19}\selectfont] at (363pt,301.85pt) {Year};
\node[anchor=base, font=\fontsize{16}{19}\selectfont] at (575.5pt,301.85pt) {Sample};
\node[anchor=base west, font=\bfseries\fontsize{15}{18}\selectfont] at (49.15pt,301.85pt) {a};
\node[anchor=base west, font=\bfseries\fontsize{15}{18}\selectfont] at (260.5pt,301.85pt) {b};
\node[anchor=base west, font=\bfseries\fontsize{15}{18}\selectfont] at (481pt,301.85pt) {c};

\node[anchor=base west, font=\fontsize{12.7}{15}\selectfont] at (5.85pt,274.35pt) {Early};
\node[anchor=base west, font=\fontsize{12.7}{15}\selectfont] at (5.85pt,260.15pt) {events};
\node[anchor=base west, font=\fontsize{12.7}{15}\selectfont] at (5.85pt,105.15pt) {Late};
\node[anchor=base west, font=\fontsize{12.7}{15}\selectfont] at (5.85pt,89.5pt) {events};

\node[anchor=base west, font=\fontsize{12.7}{15}\selectfont] at (44pt,72.65pt) {Early};
\node[anchor=base west, font=\fontsize{12.7}{15}\selectfont] at (44pt,57.65pt) {events};
\node[anchor=base east, font=\fontsize{12.7}{15}\selectfont] at (248.3pt,72.65pt) {Late};
\node[anchor=base east, font=\fontsize{12.7}{15}\selectfont] at (248.3pt,57.65pt) {events};

\node[anchor=base west, font=\fontsize{12.7}{15}\selectfont] at (261pt,72.65pt) {Early};
\node[anchor=base west, font=\fontsize{12.7}{15}\selectfont] at (261pt,57.65pt) {events};
\node[anchor=base east, font=\fontsize{12.7}{15}\selectfont] at (464pt,72.65pt) {Late};
\node[anchor=base east, font=\fontsize{12.7}{15}\selectfont] at (464pt,57.65pt) {events};

\node[anchor=base west, font=\fontsize{12.7}{15}\selectfont] at (475.5pt,72.65pt) {Early};
\node[anchor=base west, font=\fontsize{12.7}{15}\selectfont] at (475.5pt,57.65pt) {events};
\node[anchor=base east, font=\fontsize{12.7}{15}\selectfont] at (680pt,72.65pt) {Late};
\node[anchor=base east, font=\fontsize{12.7}{15}\selectfont] at (680pt,57.65pt) {events};

\node[anchor=base, font=\fontsize{19}{22}\selectfont] at (150.35pt,5.5pt) {\textendash};
\node[anchor=base, font=\fontsize{15}{18}\selectfont] at (363.35pt,3.5pt) {0};
\node[anchor=base, font=\fontsize{15}{18}\selectfont] at (576pt,2.95pt) {+};
\end{scope}
\end{tikzpicture}
\end{document}
